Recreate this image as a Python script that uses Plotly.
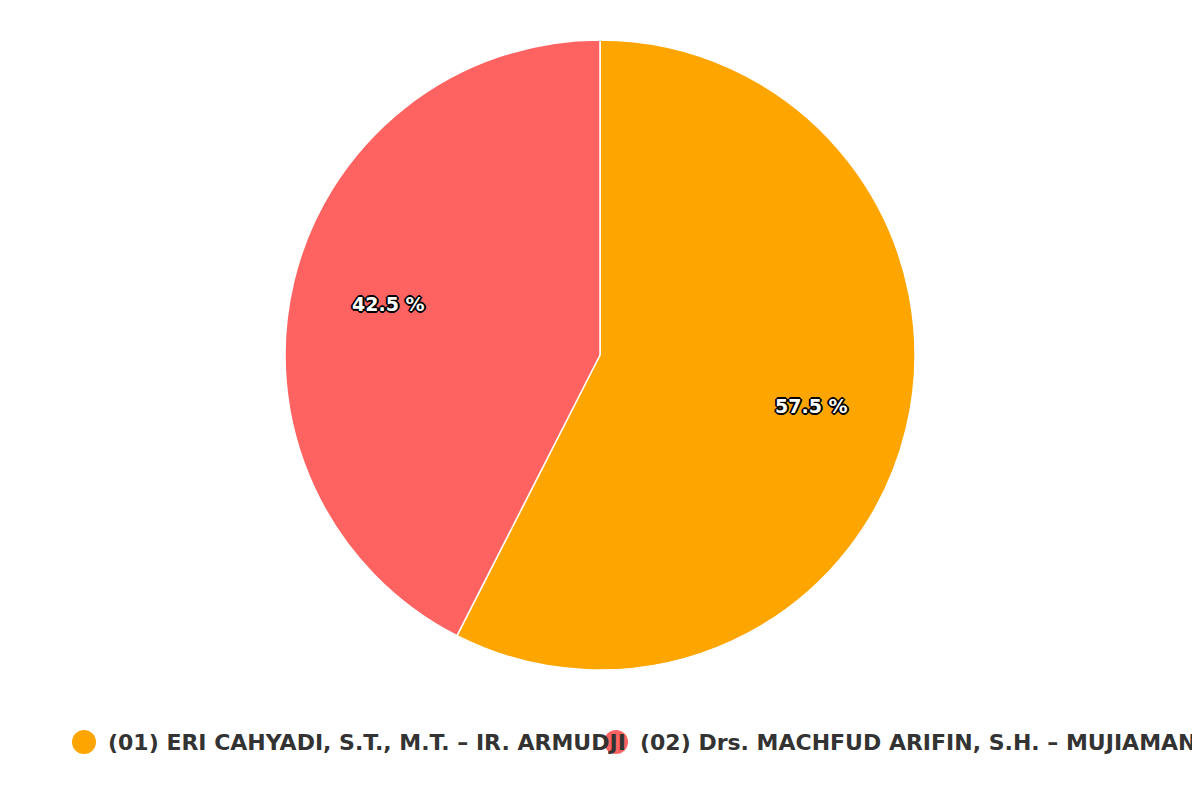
import numpy as np
import plotly.graph_objects as go

# data
candidates = [
    "(01) ERI CAHYADI, S.T., M.T. – IR. ARMUDJI",
    "(02) Drs. MACHFUD ARIFIN, S.H. – MUJIAMAN",
]
shares = [57.5, 42.5]
colors = ["#FFA500", "#FF6361"]

# the page adds an 8px body margin, so keep the figure inside the window
W, H = 1192, 792
FONT = "DejaVu Sans"
OUTLINE = ", ".join(f"{dx}px {dy}px 0 #000" for dx in (-2, -1, 0, 1, 2) for dy in (-2, -1, 0, 1, 2)
                    if abs(dx) + abs(dy) <= 2 and (dx, dy) != (0, 0))

# pie geometry (figure pixels)
cx, cy, rad = 592, 347, 315

fig = go.Figure()
fig.add_trace(go.Pie(
    labels=candidates,
    values=shares,
    sort=False,
    direction="clockwise",
    rotation=0,
    marker=dict(colors=colors, line=dict(color="white", width=1.5)),
    textinfo="none",
    domain=dict(x=[(cx - rad) / W, (cx + rad) / W], y=[1 - (cy + rad) / H, 1 - (cy - rad) / H]),
    showlegend=False,
    hoverinfo="label+percent",
))

# percentage labels at the middle angle of each slice
total = sum(shares)
start = 0.0
for val in shares:
    mid = (start + val / 2) / total * 2 * np.pi
    start += val
    lx = cx + 0.69 * rad * np.sin(mid)
    ly = cy - 0.69 * rad * np.cos(mid)
    fig.add_annotation(x=lx / W, y=1 - ly / H, xref="paper", yref="paper",
                       xanchor="center", yanchor="middle",
                       showarrow=False, text=f"{val} %",
                       font=dict(family=FONT, size=19, color="white", weight="bold", shadow=OUTLINE))

# legend drawn by hand so the entries can overlap like the original
legend_x = [76, 608]
legend_y = 734
for i, name in enumerate(candidates):
    mx = legend_x[i]
    fig.add_annotation(x=(mx + 22) / W, y=1 - legend_y / H, xref="paper", yref="paper",
                       xanchor="left", yanchor="middle", showarrow=False,
                       text=name,
                       font=dict(family=FONT, size=22, color="#333333", weight="bold"))
    fig.add_shape(type="circle", xref="paper", yref="paper",
                  x0=(mx - 12) / W, x1=(mx + 12) / W,
                  y0=1 - (legend_y + 12) / H, y1=1 - (legend_y - 12) / H,
                  fillcolor=colors[i], line=dict(width=0), layer="above")

fig.update_layout(
    width=W, height=H,
    margin=dict(l=0, r=0, t=0, b=0),
    paper_bgcolor="white",
    plot_bgcolor="white",
)
fig.write_html("out.html")
